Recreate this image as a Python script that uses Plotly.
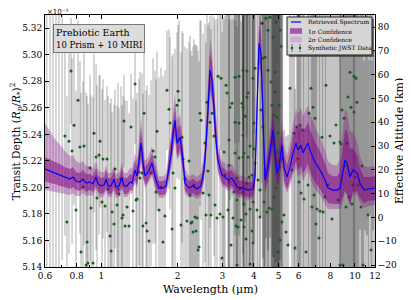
import plotly.graph_objects as go

# ---------------- Retrieved spectrum (transit depth in units of 1e-3) ----------------
spec_wl = [0.600, 0.628, 0.657, 0.688, 0.719, 0.753, 0.774, 0.795, 0.824, 0.847,
           0.871, 0.903, 0.928, 0.954, 0.972, 0.998, 1.026, 1.045, 1.064, 1.093,
           1.123, 1.143, 1.175, 1.207, 1.229, 1.264, 1.298, 1.322, 1.359, 1.384,
           1.409, 1.435, 1.461, 1.488, 1.529, 1.557, 1.585, 1.614, 1.644, 1.689,
           1.751, 1.800, 1.833, 1.883, 1.918, 1.953, 1.989, 2.044, 2.100, 2.139,
           2.218, 2.300, 2.385, 2.473, 2.541, 2.587, 2.635, 2.683, 2.733, 2.782,
           2.834, 2.886, 2.992, 3.075, 3.160, 3.276, 3.428, 3.620, 3.788, 3.965,
           4.037, 4.111, 4.186, 4.262, 4.340, 4.421, 4.543, 4.668, 4.754, 4.840,
           4.929, 5.019, 5.158, 5.252, 5.397, 5.547, 5.700, 5.857, 5.965, 6.129,
           6.242, 6.414, 6.531, 6.712, 6.960, 7.284, 7.622, 7.832, 8.196, 8.500,
           8.734, 8.894, 9.140, 9.307, 9.565, 9.829, 10.19, 10.47, 10.86, 11.26,
           11.68, 12.00]
spec_depth = [5.2138, 5.2123, 5.2108, 5.2093, 5.2078, 5.2063, 5.2078, 5.2048, 5.2041, 5.2063,
              5.2033, 5.2041, 5.2026, 5.2078, 5.2026, 5.2011, 5.2018, 5.2063, 5.2011, 5.2011,
              5.2063, 5.2003, 5.2011, 5.2078, 5.2011, 5.2011, 5.2041, 5.2033, 5.2131, 5.2086,
              5.2206, 5.2334, 5.2184, 5.2086, 5.2116, 5.2146, 5.2184, 5.2116, 5.2056, 5.1995,
              5.1995, 5.2011, 5.2116, 5.2244, 5.2394, 5.2507, 5.2334, 5.2379, 5.2206, 5.2033,
              5.1995, 5.2011, 5.1988, 5.2011, 5.2131, 5.2319, 5.2583, 5.2884, 5.2809, 5.2583,
              5.2357, 5.2206, 5.2093, 5.2078, 5.2056, 5.2071, 5.2003, 5.1995, 5.1980, 5.1988,
              5.2078, 5.2583, 5.3087, 5.3012, 5.2455, 5.2056, 5.2153, 5.2334, 5.2432, 5.2259,
              5.2108, 5.2153, 5.2319, 5.2153, 5.2078, 5.2153, 5.2259, 5.2334, 5.2282, 5.2319,
              5.2259, 5.2304, 5.2334, 5.2259, 5.2191, 5.2131, 5.2056, 5.1995, 5.1980, 5.1980,
              5.1995, 5.2078, 5.2206, 5.2184, 5.2078, 5.2131, 5.2108, 5.2033, 5.1980, 5.1988,
              5.1995, 5.1995]
sig1 = [0.0090, 0.0090, 0.0083, 0.0083, 0.0075, 0.0075, 0.0075, 0.0068, 0.0068, 0.0068,
        0.0068, 0.0060, 0.0060, 0.0068, 0.0060, 0.0060, 0.0060, 0.0068, 0.0060, 0.0060,
        0.0068, 0.0060, 0.0060, 0.0068, 0.0060, 0.0060, 0.0060, 0.0060, 0.0075, 0.0068,
        0.0090, 0.0113, 0.0090, 0.0068, 0.0068, 0.0068, 0.0075, 0.0068, 0.0060, 0.0053,
        0.0053, 0.0053, 0.0068, 0.0083, 0.0098, 0.0113, 0.0098, 0.0098, 0.0083, 0.0060,
        0.0053, 0.0053, 0.0053, 0.0053, 0.0068, 0.0090, 0.0113, 0.0136, 0.0128, 0.0113,
        0.0090, 0.0075, 0.0060, 0.0060, 0.0060, 0.0060, 0.0053, 0.0053, 0.0053, 0.0053,
        0.0068, 0.0105, 0.0136, 0.0136, 0.0105, 0.0075, 0.0083, 0.0098, 0.0105, 0.0098,
        0.0083, 0.0090, 0.0105, 0.0098, 0.0090, 0.0105, 0.0128, 0.0143, 0.0151, 0.0158,
        0.0158, 0.0158, 0.0158, 0.0158, 0.0151, 0.0143, 0.0128, 0.0113, 0.0105, 0.0105,
        0.0120, 0.0166, 0.0226, 0.0241, 0.0211, 0.0166, 0.0136, 0.0113, 0.0098, 0.0090,
        0.0090, 0.0090]
sig2_up = [0.0346, 0.0301, 0.0256, 0.0226, 0.0196, 0.0173, 0.0166, 0.0151, 0.0143, 0.0136,
           0.0128, 0.0120, 0.0113, 0.0120, 0.0105, 0.0105, 0.0098, 0.0105, 0.0098, 0.0098,
           0.0105, 0.0098, 0.0098, 0.0113, 0.0098, 0.0098, 0.0105, 0.0105, 0.0128, 0.0120,
           0.0151, 0.0196, 0.0151, 0.0113, 0.0113, 0.0120, 0.0128, 0.0113, 0.0105, 0.0090,
           0.0090, 0.0090, 0.0113, 0.0143, 0.0173, 0.0203, 0.0173, 0.0173, 0.0143, 0.0105,
           0.0090, 0.0090, 0.0090, 0.0098, 0.0120, 0.0158, 0.0203, 0.0241, 0.0226, 0.0196,
           0.0158, 0.0136, 0.0105, 0.0105, 0.0105, 0.0105, 0.0098, 0.0090, 0.0090, 0.0098,
           0.0120, 0.0188, 0.0241, 0.0241, 0.0188, 0.0136, 0.0151, 0.0173, 0.0188, 0.0173,
           0.0151, 0.0158, 0.0188, 0.0173, 0.0158, 0.0188, 0.0226, 0.0256, 0.0271, 0.0279,
           0.0279, 0.0286, 0.0286, 0.0279, 0.0264, 0.0248, 0.0226, 0.0203, 0.0188, 0.0188,
           0.0211, 0.0286, 0.0377, 0.0392, 0.0346, 0.0286, 0.0241, 0.0203, 0.0181, 0.0166,
           0.0166, 0.0166]
sig2_lo = [0.0158, 0.0151, 0.0143, 0.0136, 0.0128, 0.0120, 0.0120, 0.0113, 0.0105, 0.0105,
           0.0098, 0.0098, 0.0090, 0.0090, 0.0090, 0.0090, 0.0083, 0.0090, 0.0083, 0.0083,
           0.0090, 0.0083, 0.0083, 0.0090, 0.0083, 0.0083, 0.0083, 0.0083, 0.0098, 0.0090,
           0.0113, 0.0151, 0.0113, 0.0090, 0.0090, 0.0090, 0.0098, 0.0090, 0.0083, 0.0075,
           0.0075, 0.0075, 0.0090, 0.0105, 0.0128, 0.0151, 0.0128, 0.0128, 0.0105, 0.0083,
           0.0075, 0.0075, 0.0075, 0.0075, 0.0090, 0.0113, 0.0151, 0.0181, 0.0166, 0.0143,
           0.0120, 0.0105, 0.0083, 0.0083, 0.0083, 0.0083, 0.0075, 0.0075, 0.0075, 0.0075,
           0.0090, 0.0136, 0.0181, 0.0181, 0.0136, 0.0105, 0.0113, 0.0128, 0.0143, 0.0128,
           0.0113, 0.0120, 0.0136, 0.0128, 0.0120, 0.0143, 0.0166, 0.0188, 0.0203, 0.0211,
           0.0211, 0.0211, 0.0211, 0.0211, 0.0203, 0.0188, 0.0173, 0.0158, 0.0143, 0.0143,
           0.0158, 0.0211, 0.0241, 0.0241, 0.0211, 0.0181, 0.0166, 0.0151, 0.0136, 0.0128,
           0.0128, 0.0128]

# ---------------- Synthetic JWST data: 0.6 - 4.3 um ----------------
wl_a = [0.609, 0.628, 0.645, 0.663, 0.681, 0.701,
        0.719, 0.732, 0.746, 0.760, 0.767, 0.781, 0.795, 0.810, 0.824, 0.832,
        0.847, 0.855, 0.871, 0.879, 0.887, 0.903, 0.911, 0.928, 0.936, 0.954,
        0.962, 0.980, 0.989,
        1.007, 1.016, 1.035, 1.054, 1.064, 1.083, 1.093, 1.103, 1.123, 1.133,
        1.154, 1.164, 1.175, 1.196, 1.207, 1.218, 1.229, 1.241, 1.264, 1.287,
        1.310, 1.334, 1.359, 1.371, 1.384, 1.409, 1.422,
        1.448, 1.461, 1.475, 1.502, 1.515, 1.543, 1.571, 1.600, 1.629, 1.644,
        1.659, 1.689, 1.720, 1.751, 1.783, 1.816, 1.849, 1.866, 1.900, 1.918,
        1.953, 1.989, 2.007, 2.025, 2.063, 2.081, 2.100, 2.139, 2.178, 2.218,
        2.238, 2.258, 2.279, 2.300, 2.321, 2.342, 2.363, 2.385, 2.407, 2.429,
        2.451, 2.473, 2.519,
        2.564, 2.587, 2.611, 2.635, 2.659, 2.683, 2.707, 2.733, 2.782, 2.808,
        2.859, 2.886, 2.938, 2.965, 2.992, 3.019, 3.047, 3.075, 3.103, 3.131,
        3.160, 3.189, 3.189, 3.189, 3.217, 3.246, 3.276, 3.306, 3.336, 3.367,
        3.367, 3.367, 3.398, 3.428, 3.428, 3.428, 3.460, 3.491, 3.491, 3.491,
        3.523, 3.555, 3.588, 3.620, 3.620, 3.620, 3.620, 3.620, 3.653, 3.653,
        3.653, 3.686, 3.720, 3.720, 3.754, 3.754, 3.754, 3.788, 3.788, 3.823,
        3.858, 3.858, 3.858, 3.929, 3.929, 3.965, 3.965, 3.965, 4.001, 4.001,
        4.037, 4.037, 4.111, 4.148, 4.224, 4.224, 4.262, 4.301]
depth_a = [5.100, 5.370, 5.110, 5.360, 5.105, 5.355,
           5.2387, 5.1739, 5.2349, 5.2877, 5.2274, 5.2469, 5.1830, 5.2658, 5.2304, 5.1514,
           5.2003, 5.2312, 5.1415, 5.1589, 5.1430, 5.2146, 5.1845, 5.1430, 5.2409, 5.2229,
           5.1920, 5.2244, 5.2349,
           5.1890, 5.2214, 5.1860, 5.2214, 5.1988, 5.1634, 5.1521, 5.1815, 5.1724, 5.2139,
           5.1867, 5.1988, 5.1950, 5.2063, 5.1769, 5.1792, 5.2500, 5.1709, 5.1852, 5.1709,
           5.2455, 5.1822, 5.2779, 5.1905, 5.1913, 5.2116, 5.2071,
           5.2108, 5.1709, 5.2560, 5.1731, 5.1671, 5.1596, 5.2108, 5.2274, 5.2229, 5.1965,
           5.2424, 5.1830, 5.2003, 5.1589, 5.1784, 5.2733, 5.2590, 5.2485, 5.1687, 5.2108,
           5.1995, 5.2620, 5.2726, 5.2658, 5.1717, 5.2379, 5.2214, 5.2063, 5.1747, 5.2199,
           5.1943, 5.1731, 5.1739, 5.1664, 5.2018, 5.1777, 5.1671, 5.1769, 5.1529, 5.1551,
           5.2560, 5.2507, 5.1958,
           5.2334, 5.1792, 5.2643, 5.2123, 5.1943, 5.2492, 5.1792, 5.2560, 5.2387, 5.1867,
           5.1769, 5.2839, 5.1799, 5.2824, 5.1468, 5.1777, 5.2267, 5.2093, 5.2771, 5.2711,
           5.1830, 5.2168, 5.2357, 5.2041, 5.2605, 5.1566, 5.2635, 5.1769, 5.1965, 5.2831,
           5.2492, 5.2259, 5.1709, 5.2071, 5.1905, 5.1415, 5.1702, 5.2839, 5.2485, 5.2221,
           5.1988, 5.1754, 5.2635, 5.2884, 5.2605, 5.2394, 5.2229, 5.1965, 5.2259, 5.1875,
           5.1702, 5.2537, 5.1800, 5.1611, 5.2877, 5.2681, 5.2033, 5.2711, 5.2229, 5.2078,
           5.2312, 5.1837, 5.1423, 5.2093, 5.1672, 5.2824, 5.1890, 5.1581, 5.2485, 5.2289,
           5.2899, 5.2184, 5.1830, 5.2056, 5.1980, 5.1777, 5.2583, 5.3238]
err_a = [0.260, 0.250, 0.240, 0.220, 0.230, 0.210,
         0.075, 0.095, 0.085, 0.040, 0.070, 0.060, 0.090, 0.060, 0.065, 0.120,
         0.080, 0.075, 0.130, 0.110, 0.120, 0.070, 0.085, 0.125, 0.060, 0.070,
         0.085, 0.060, 0.050,
         0.085, 0.060, 0.080, 0.055, 0.070, 0.100, 0.115, 0.075, 0.090, 0.060,
         0.075, 0.080, 0.065, 0.070, 0.085, 0.090, 0.035, 0.095, 0.080, 0.085,
         0.040, 0.085, 0.045, 0.075, 0.080, 0.070, 0.080,
         0.075, 0.100, 0.050, 0.100, 0.110, 0.110, 0.070, 0.070, 0.065, 0.085,
         0.060, 0.100, 0.090, 0.125, 0.110, 0.045, 0.060, 0.065, 0.130, 0.090,
         0.105, 0.055, 0.050, 0.060, 0.130, 0.080, 0.095, 0.100, 0.130, 0.090,
         0.120, 0.130, 0.125, 0.140, 0.110, 0.130, 0.140, 0.130, 0.150, 0.140,
         0.070, 0.075, 0.120,
         0.090, 0.130, 0.070, 0.110, 0.130, 0.080, 0.140, 0.075, 0.090, 0.140,
         0.150, 0.050, 0.150, 0.055, 0.170, 0.150, 0.100, 0.120, 0.060, 0.065,
         0.150, 0.110, 0.100, 0.130, 0.070, 0.170, 0.070, 0.150, 0.140, 0.050,
         0.085, 0.100, 0.160, 0.130, 0.140, 0.180, 0.160, 0.050, 0.085, 0.110,
         0.140, 0.150, 0.070, 0.045, 0.075, 0.090, 0.110, 0.140, 0.110, 0.150,
         0.160, 0.080, 0.150, 0.170, 0.050, 0.070, 0.130, 0.065, 0.110, 0.125,
         0.100, 0.150, 0.190, 0.130, 0.170, 0.060, 0.150, 0.180, 0.090, 0.110,
         0.050, 0.120, 0.150, 0.140, 0.140, 0.160, 0.080, 0.120]

# ---------------- Synthetic JWST data: 4.3 - 12 um ----------------
wl_b = [4.340, 4.340, 4.380, 4.421, 4.421, 4.461, 4.502, 4.543, 4.543, 4.584,
        4.626, 4.668, 4.711, 4.711, 4.754, 4.754, 4.797, 4.797, 4.840, 4.840,
        4.884, 4.884, 4.929, 4.929, 4.974, 4.974, 5.019, 5.019, 5.065, 5.065,
        5.111, 5.158, 5.158, 5.252, 5.348, 5.446, 5.547, 5.648, 5.752, 5.804,
        5.911, 5.965, 6.019, 6.074, 6.129, 6.242, 6.299, 6.414, 6.531, 6.591,
        6.712, 6.773, 6.834, 6.897, 6.960, 7.023, 7.087, 7.217, 7.284, 7.417,
        7.485, 7.622, 7.691, 7.832, 7.976, 8.122, 8.271, 8.423, 8.577, 8.734,
        8.734, 8.814, 8.894, 8.975, 9.057, 9.140, 9.223, 9.307, 9.392, 9.478,
        9.565, 9.652, 9.740, 9.829, 9.919, 9.919, 10.01, 10.10, 10.19, 10.29,
        10.38, 10.47, 10.57, 10.67, 10.76, 10.86, 10.96, 11.06, 11.16, 11.26,
        11.37, 11.47, 11.58, 11.68, 11.79, 11.89]
depth_b = [5.2974, 5.2455, 5.1890, 5.2131, 5.2982, 5.3275, 5.1815, 5.3185, 5.2884, 5.1845,
           5.3283, 5.2794, 5.2620, 5.1837, 5.3132, 5.2334, 5.2545, 5.1928, 5.2869, 5.2718,
           5.3245, 5.1995, 5.2530, 5.2267, 5.2409, 5.1514, 5.2620, 5.2153, 5.3185, 5.1604,
           5.3065, 5.2214, 5.1739, 5.1792, 5.1664, 5.1566, 5.2748, 5.2131, 5.2409, 5.1544,
           5.2455, 5.2214, 5.2041, 5.2470, 5.1958, 5.2432, 5.1913, 5.1514, 5.2018, 5.2560,
           5.2748, 5.1852, 5.2605, 5.1943, 5.2522, 5.1724, 5.1837, 5.1619, 5.1822, 5.2379,
           5.1815, 5.1928, 5.2771, 5.2018, 5.2387, 5.1762, 5.2334, 5.2470, 5.1905, 5.2342,
           5.1415, 5.2327, 5.2583, 5.1415, 5.2522, 5.2161, 5.1852, 5.2334, 5.2681, 5.1928,
           5.2869, 5.2605, 5.1875, 5.2018, 5.2839, 5.2568, 5.2078, 5.2824, 5.2643, 5.2018,
           5.1152, 5.3562, 5.1852, 5.2161, 5.1415, 5.1077, 5.3637, 5.1114, 5.3599, 5.1792,
           5.1002, 5.3675, 5.1529, 5.1077, 5.3637, 5.1152]
err_b = [0.151, 0.166, 0.173, 0.151, 0.158, 0.166, 0.181, 0.166, 0.158, 0.173,
         0.166, 0.173, 0.151, 0.181, 0.166, 0.158, 0.173, 0.181, 0.166, 0.158,
         0.181, 0.173, 0.166, 0.151, 0.173, 0.181, 0.166, 0.158, 0.173, 0.181,
         0.166, 0.173, 0.181, 0.064, 0.072, 0.083, 0.055, 0.113, 0.128, 0.120,
         0.151, 0.136, 0.143, 0.151, 0.136, 0.143, 0.151, 0.158, 0.151, 0.143,
         0.158, 0.151, 0.166, 0.158, 0.151, 0.173, 0.166, 0.173, 0.158, 0.166,
         0.173, 0.166, 0.173, 0.173, 0.181, 0.173, 0.181, 0.188, 0.181, 0.188,
         0.196, 0.188, 0.196, 0.188, 0.196, 0.188, 0.196, 0.188, 0.196, 0.188,
         0.196, 0.188, 0.196, 0.188, 0.196, 0.188, 0.196, 0.188, 0.196, 0.188,
         0.196, 0.188, 0.196, 0.188, 0.196, 0.188, 0.196, 0.188, 0.196, 0.188,
         0.196, 0.188, 0.196, 0.188, 0.196, 0.188]

x_ticks = [0.6, 0.8, 1, 2, 3, 4, 5, 6, 8, 10, 12]
x_ticktext = ["0.6", "0.8", "1", "2", "3", "4", "5", "6", "8", "10", "12"]
y_ticks = [5.14, 5.16, 5.18, 5.20, 5.22, 5.24, 5.26, 5.28, 5.30, 5.32]
alt_ticks = [-20, -10, 0, 10, 20, 30, 40, 50, 60, 70, 80]
legend_labels = ["Retrieved Spectrum", "1σ Confidence", "2σ Confidence", "Synthetic JWST Data"]

FONT = "DejaVu Serif"
green = "#1f5a1f"
c1 = "rgba(128,0,128,0.5)"
c2 = "rgba(128,0,128,0.3)"

fig = go.Figure()

fig.add_trace(go.Scatter(
    x=wl_a, y=depth_a, mode="markers",
    marker=dict(color=green, size=3),
    error_y=dict(type="data", array=err_a, color="rgba(0,0,0,0.18)", thickness=1.8, width=0),
    showlegend=False, hoverinfo="skip"))
fig.add_trace(go.Scatter(
    x=wl_b, y=depth_b, mode="markers",
    marker=dict(color=green, size=3),
    error_y=dict(type="data", array=err_b, color="rgba(0,0,0,0.21)", thickness=2.2, width=0),
    showlegend=False, hoverinfo="skip"))

lo2 = [m - s for m, s in zip(spec_depth, sig2_lo)]
up2 = [m + s for m, s in zip(spec_depth, sig2_up)]
lo1 = [m - s for m, s in zip(spec_depth, sig1)]
up1 = [m + s for m, s in zip(spec_depth, sig1)]

fig.add_trace(go.Scatter(x=spec_wl, y=lo2, mode="lines", line=dict(width=0),
                         showlegend=False, hoverinfo="skip"))
fig.add_trace(go.Scatter(x=spec_wl, y=up2, mode="lines", line=dict(width=0),
                         fill="tonexty", fillcolor=c2, showlegend=False, hoverinfo="skip"))
fig.add_trace(go.Scatter(x=spec_wl, y=lo1, mode="lines", line=dict(width=0),
                         showlegend=False, hoverinfo="skip"))
fig.add_trace(go.Scatter(x=spec_wl, y=up1, mode="lines", line=dict(width=0),
                         fill="tonexty", fillcolor=c1, showlegend=False, hoverinfo="skip"))
fig.add_trace(go.Scatter(x=spec_wl, y=spec_depth, mode="lines",
                         line=dict(color="#0000ff", width=1.2), showlegend=False))
# carrier for the right-hand altitude axis
fig.add_trace(go.Scatter(x=[1.0], y=[0], yaxis="y2", mode="markers",
                         marker=dict(opacity=0), showlegend=False, hoverinfo="skip"))

axis_common = dict(showline=True, linecolor="black", linewidth=1, ticks="inside",
                   ticklen=4, tickcolor="black", showgrid=False, zeroline=False,
                   automargin=False,
                   tickfont=dict(family=FONT, size=9, color="black"))

# ---- hand-drawn legend (paper coordinates) ----
L_x0, L_x1, L_y0, L_y1 = 0.7333, 0.9909, 0.8413, 0.9921
rows = [0.9722, 0.9365, 0.9028, 0.8690]
shapes = [
    dict(type="rect", xref="paper", yref="paper", x0=L_x0 + 0.006, x1=L_x1 + 0.006,
         y0=L_y0 - 0.008, y1=L_y1 - 0.008, fillcolor="rgba(60,60,60,0.7)", line=dict(width=0)),
    dict(type="rect", xref="paper", yref="paper", x0=L_x0, x1=L_x1, y0=L_y0, y1=L_y1,
         fillcolor="rgb(214,214,214)", line=dict(color="#222222", width=1)),
    dict(type="line", xref="paper", yref="paper", x0=0.7455, x1=0.7758, y0=rows[0], y1=rows[0],
         line=dict(color="rgba(40,40,255,0.75)", width=2)),
    dict(type="rect", xref="paper", yref="paper", x0=0.7424, x1=0.7788,
         y0=rows[1] - 0.011, y1=rows[1] + 0.011, fillcolor="rgb(168,84,168)", line=dict(width=0)),
    dict(type="rect", xref="paper", yref="paper", x0=0.7424, x1=0.7788,
         y0=rows[2] - 0.011, y1=rows[2] + 0.011, fillcolor="rgb(214,172,214)", line=dict(width=0)),
]
for xc in (0.7485, 0.7727):
    shapes.append(dict(type="line", xref="paper", yref="paper", x0=xc, x1=xc,
                       y0=rows[3] - 0.016, y1=rows[3] + 0.016,
                       line=dict(color="rgba(90,90,90,0.8)", width=1)))
    shapes.append(dict(type="circle", xref="paper", yref="paper", x0=xc - 0.004, x1=xc + 0.004,
                       y0=rows[3] - 0.005, y1=rows[3] + 0.005,
                       fillcolor=green, line=dict(width=0)))

annotations = [
    dict(xref="paper", yref="paper", x=0.0, y=1.0, xanchor="left", yanchor="bottom",
         yshift=-3, text="×10⁻³", showarrow=False,
         font=dict(family=FONT, size=7, color="black")),
    dict(xref="paper", yref="paper", x=0.024, y=0.964, xanchor="left", yanchor="top",
         text="Prebiotic Earth<br><span style='font-size:8.5px'>10 Prism + 10 MIRI</span>",
         showarrow=False, align="left", bgcolor="#dcdcdc", bordercolor="#777777",
         borderwidth=1, borderpad=2, font=dict(family=FONT, size=9.5, color="black")),
    dict(xref="paper", yref="paper", x=0.5, y=-0.091, xanchor="center", yanchor="middle",
         text="Wavelength (μm)", showarrow=False,
         font=dict(family=FONT, size=11, color="black")),
    dict(xref="paper", yref="paper", x=-0.087, y=0.5, xanchor="center", yanchor="middle",
         textangle=-90, showarrow=False,
         text="Transit Depth (<i>R<sub>p</sub></i>/<i>R</i><sub>*</sub>)<sup>2</sup>",
         font=dict(family=FONT, size=10.5, color="black")),
    dict(xref="paper", yref="paper", x=1.0727, y=0.5, xanchor="center", yanchor="middle",
         textangle=-90, showarrow=False, text="Effective Altitude (km)",
         font=dict(family=FONT, size=11, color="black")),
]
for yv, lab in zip(rows, legend_labels):
    annotations.append(dict(xref="paper", yref="paper", x=0.7909, y=yv, xanchor="left",
                            yanchor="middle", text=lab, showarrow=False,
                            font=dict(family=FONT, size=6, color="black")))

# page body has an 8px default margin, so the figure is 8px smaller in each direction
fig.update_layout(
    width=403, height=292,
    margin=dict(l=37, r=36, t=7, b=33),
    paper_bgcolor="white", plot_bgcolor="white",
    showlegend=False,
    xaxis=dict(type="log", range=[-0.2218, 1.0792], tickvals=x_ticks, ticktext=x_ticktext,
               mirror="ticks",
               minor=dict(tickvals=[0.7, 0.9, 7, 9, 11], ticks="inside", ticklen=2, tickcolor="black"),
               **axis_common),
    yaxis=dict(range=[5.14, 5.33], tickvals=y_ticks, ticktext=[f"{v:.2f}" for v in y_ticks],
               **axis_common),
    yaxis2=dict(overlaying="y", side="right", range=[-20.84, 85.04], tickvals=alt_ticks,
                **axis_common),
    shapes=shapes,
    annotations=annotations,
)

fig.write_html("out.html")
